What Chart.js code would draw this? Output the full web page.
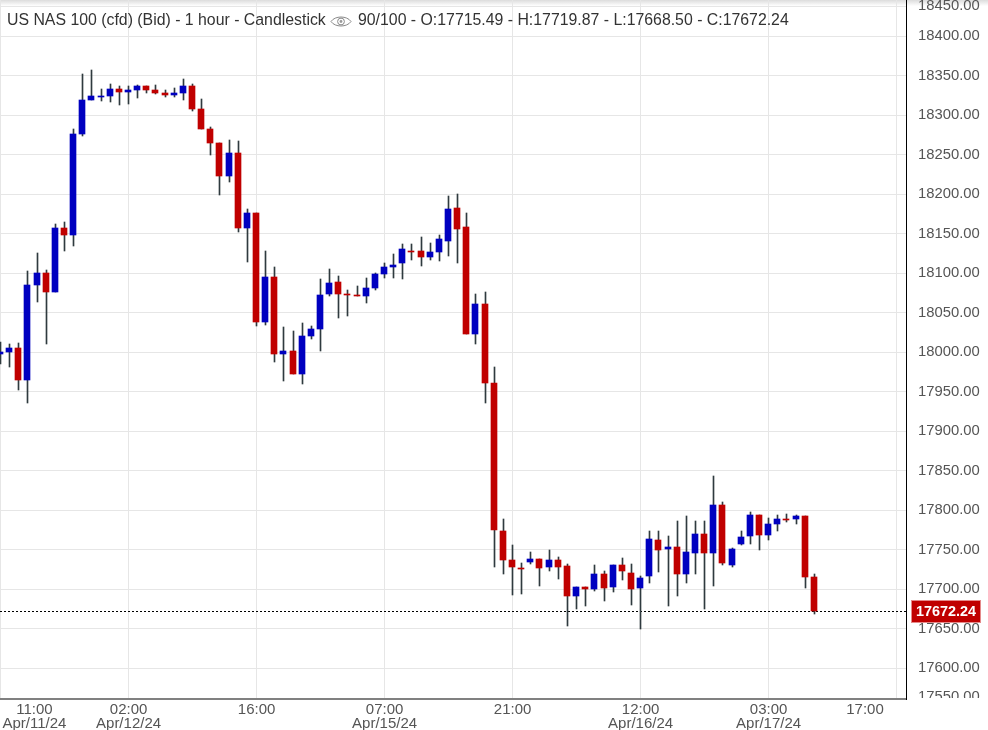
<!DOCTYPE html>
<html><head><meta charset="utf-8">
<script src="https://cdn.jsdelivr.net/npm/chart.js@4"></script>
<style>
html,body{margin:0;padding:0;background:#fff;width:988px;height:730px;overflow:hidden}
#wrap{position:relative;width:988px;height:730px}
canvas{display:block}
.t{position:absolute;top:11px;font:15.85px "Liberation Sans",Arial,sans-serif;color:#333;white-space:nowrap;line-height:18px}
svg{position:absolute;left:330px;top:15px}
</style></head><body>
<div id="wrap"><canvas id="c" width="988" height="730"></canvas>
<span class="t" style="left:7px">US NAS 100 (cfd) (Bid) - 1 hour - Candlestick</span>
<svg width="22" height="13" viewBox="0 0 22 13"><path d="M1 6.5C5 .5 17 .5 21 6.5C17 12.5 5 12.5 1 6.5Z" fill="none" stroke="#888" stroke-width="1"/><circle cx="11" cy="6.5" r="3.4" fill="none" stroke="#888"/><circle cx="11" cy="6.5" r="1.4" fill="#999"/></svg>
<span class="t" style="left:358px">90/100 - O:17715.49 - H:17719.87 - L:17668.50 - C:17672.24</span>
</div>
<script>
const opens=[17998,18000.4,18005.5,17965,18085,18100,18076,18157,18148.5,18276.4,18319.5,18323.3,18324.5,18333.4,18329.6,18332.1,18337.2,18332.1,18328.3,18325.8,18328.3,18337.2,18308.1,18282.7,18265,18223.2,18252.4,18157.4,18176.4,18038.4,18095.4,17997.9,18001.7,17972.6,18020.7,18029.5,18073.9,18089,18073.9,18072.6,18071.3,18081.4,18099.2,18108,18113.1,18128.3,18128.3,18120.7,18127,18140.9,18182.7,18158.7,18023.2,18061.2,17961.2,17773.9,17737.1,17727,17734.6,17738.4,17728.3,17737.1,17729.5,17691.6,17703,17700.4,17719.4,17703,17730.8,17720.7,17701.7,17716.9,17762.5,17751.1,17753.6,17719.4,17746,17770.1,17746,17806.8,17730.8,17757.4,17767.5,17794.1,17768.8,17782.7,17789,17789,17792.8,17715.49];
const closes=[18000.4,18005.5,17965,18085,18100,18076,18157,18148.5,18276.4,18319.5,18324.5,18324.5,18333.4,18329.6,18332.1,18337.2,18332.1,18328.3,18325.8,18328.3,18337.2,18308.1,18282.7,18265,18223.2,18252.4,18157.4,18176.4,18038.4,18095.4,17997.9,18001.7,17972.6,18020.7,18029.5,18072.6,18087.8,18073.9,18072.6,18071.3,18081.4,18099.2,18108,18110.6,18130.8,18127,18120.7,18127,18143.5,18181.5,18156.1,18023.2,18061.2,17961.2,17775.1,17737.1,17728.3,17725.7,17738.4,17727,17737.1,17728.3,17691.6,17703,17700.4,17719.4,17701.7,17730.8,17723.2,17700.4,17714.3,17763.7,17749.8,17753.6,17719.4,17747.3,17770.1,17746,17806.8,17733.3,17751.1,17766.3,17794.1,17768.8,17782.7,17789,17787.8,17792.8,17715.6,17672.24];
const highs=[18013,18010.5,18012,18103,18126,18104,18162.5,18165,18282.7,18352.4,18357.4,18333.4,18339.7,18337.2,18337.2,18338.4,18337.2,18338.4,18332.1,18334.6,18346,18339.7,18320.7,18285.3,18265,18268.8,18267.5,18181.5,18176.4,18128.3,18108,18032,18027,18037.1,18033.3,18092.8,18105.5,18096.6,18078.9,18084,18094.1,18100.4,18113.1,18124.5,18137.2,18137.2,18146,18138.4,18148.5,18197.9,18200.5,18176.4,18073.9,18076.4,17981.5,17789,17756.1,17733.3,17747.3,17738.4,17749.8,17740.9,17732.1,17703,17703,17730.8,17723.2,17730.8,17739.7,17732.1,17716.9,17773.9,17773.9,17767.5,17786.5,17792.8,17786.5,17786.5,17843.5,17810.6,17752.3,17773.9,17797.9,17794.1,17790.3,17794.1,17795.4,17794.1,17792.8,17719.87];
const lows=[17985,17981,17952,17936,18064,18010.5,18076,18128,18134.6,18273.9,18319.5,18318.2,18316.9,18313.1,18314.4,18322,18328.3,18327,18323.3,18323.3,18319.5,18305.5,18282.7,18249.8,18199.2,18215.6,18152.3,18114.4,18033.3,18034.6,17987.8,17963.7,17972.6,17959.9,18016.9,18001.7,18071.3,18043.5,18046,18071.3,18062.5,18078.9,18094.1,18094.1,18092.8,18116.9,18109.3,18116.9,18115.6,18122,18113.1,18023.2,18010.6,17935.9,17728.3,17719.4,17692.8,17694.1,17732.1,17704.2,17723.2,17713.1,17653.6,17675.1,17678.9,17697.9,17685.2,17696.6,17711.8,17680.2,17649.8,17708,17721.9,17678.9,17691.6,17708,17719.4,17675.1,17704.2,17730.8,17728.3,17756.1,17757.4,17749.8,17762.5,17773.9,17785.2,17782.7,17701.7,17668.5];
const gridIndex=[0,14,28,42,56,70,84,98];
const timeLabels=['11:00','02:00','16:00','07:00','21:00','12:00','03:00','17:00'];
const dateLabels=['Apr/11/24','Apr/12/24','','Apr/15/24','','Apr/16/24','Apr/17/24',''];
const priceTicks=[18450,18400,18350,18300,18250,18200,18150,18100,18050,18000,17950,17900,17850,17800,17750,17700,17650,17600,17550];
const lastPrice=17672.24;

const BLUE='#0000c0',RED='#c00000',WICK='#2f3a3f';
const xMin=-0.06,xMax=99.03,yMax=18445.9,yMin=17561.1;
const idx=opens.map((_,i)=>i);
const noPad=s=>{s.paddingTop=s.paddingBottom=s.paddingLeft=s.paddingRight=0;};

const snap={id:'snap',afterDatasetsUpdate(chart){
  chart.getDatasetMeta(0).data.forEach(e=>{e.x=Math.floor(e.x);e.y=Math.round(e.y);e.base=Math.round(e.base);if(Math.abs(e.base-e.y)<1)e.base=e.y+1;});
  chart.getDatasetMeta(1).data.forEach(e=>{e.x=Math.floor(e.x)+.5;e.y=Math.round(e.y);e.base=Math.round(e.base);});
  chart.getDatasetMeta(2).data.forEach(e=>{e.y=Math.floor(e.y)+.5;});
}};
const deco={id:'deco',
 beforeDraw(chart){const c=chart.ctx;c.save();const g=c.createLinearGradient(0,0,0,6);g.addColorStop(0,'#dcdcdc');g.addColorStop(1,'#ffffff');c.fillStyle=g;c.fillRect(0,0,988,6);c.fillStyle='#e6e6e6';c.fillRect(0,6,906,1);c.restore();},
 afterDraw(chart){const c=chart.ctx,y=chart.scales.y.getPixelForValue(lastPrice);c.save();
  c.fillStyle='#fff';c.fillRect(907,698,81,32);
  const top=Math.round(y)-10;
  c.fillStyle='#c00000';c.fillRect(912,top,68,21);c.strokeStyle='#e58a8a';c.lineWidth=1;c.strokeRect(911.5,top-.5,69,22);
  c.fillStyle='#fff';c.font='bold 14.4px "Liberation Sans",Arial,sans-serif';c.textAlign='center';c.textBaseline='middle';c.fillText(lastPrice.toFixed(2),946,top+11);
  c.restore();}
};
const font={family:'"Liberation Sans",Arial,sans-serif',size:14.8};
new Chart(document.getElementById('c'),{
 type:'bar',
 data:{datasets:[
  {label:'Body',xAxisID:'x',yAxisID:'y',data:idx.map(i=>({x:i,y:[opens[i],closes[i]]})),backgroundColor:idx.map(i=>closes[i]>=opens[i]?BLUE:RED),barThickness:6,borderWidth:0},
  {label:'Wick',xAxisID:'x',yAxisID:'y',data:idx.map(i=>({x:i,y:[lows[i],highs[i]]})),backgroundColor:WICK,barThickness:1,borderWidth:0},
  {type:'line',label:'Last',xAxisID:'x',yAxisID:'y',data:[{x:xMin,y:lastPrice},{x:xMax,y:lastPrice}],borderColor:'#000',borderWidth:1,borderDash:[2,2],pointRadius:0,tension:0}
 ]},
 options:{
  responsive:false,animation:false,events:[],devicePixelRatio:1,
  layout:{padding:0},
  datasets:{bar:{grouped:false}},
  plugins:{legend:{display:false},tooltip:{enabled:false},title:{display:false}},
  scales:{
   x:{type:'linear',position:'bottom',weight:0,offset:false,min:xMin,max:xMax,
      afterBuildTicks(s){s.ticks=gridIndex.map(v=>({value:v}));},
      afterFit(s){s.height=0;noPad(s);},
      ticks:{display:false},
      grid:{color:'#e6e6e6',lineWidth:1,drawTicks:false,offset:false},
      border:{display:true,color:'#808080',width:2}},
   xl:{type:'linear',position:'bottom',weight:1,offset:false,min:xMin,max:xMax,
      afterBuildTicks(s){s.ticks=gridIndex.map(v=>({value:Math.min(Math.max(v,3.71),94.55)}));},
      afterFit(s){s.height=31;noPad(s);},
      grid:{display:false,drawTicks:false,offset:false},border:{display:false},
      ticks:{autoSkip:false,maxRotation:0,minRotation:0,padding:4,color:'#555',font:{...font,size:15,lineHeight:0.92},
        callback(v,i){return dateLabels[i]?[timeLabels[i],dateLabels[i]]:timeLabels[i];}}},
   y:{type:'linear',position:'right',weight:0,min:yMin,max:yMax,
      afterBuildTicks(s){s.ticks=priceTicks.filter(v=>v>yMin&&v<yMax).map(v=>({value:v}));},
      afterFit(s){s.width=0;noPad(s);},
      ticks:{display:false},
      grid:{color:'#e6e6e6',lineWidth:1,drawTicks:false},
      border:{display:true,color:'#000',width:1}},
   yl:{type:'linear',position:'right',weight:1,min:yMin,max:yMax,
      afterBuildTicks(s){s.ticks=priceTicks.map(v=>({value:Math.min(Math.max(v,17563.7),18438.4)}));},
      afterFit(s){s.width=82;noPad(s);},
      grid:{display:false,drawTicks:false},border:{display:false},
      ticks:{autoSkip:false,padding:12,color:'#555',font,
        callback(v,i){return priceTicks[i].toFixed(2);}}}
  }
 },
 plugins:[snap,deco]
});
</script>
</body></html>
